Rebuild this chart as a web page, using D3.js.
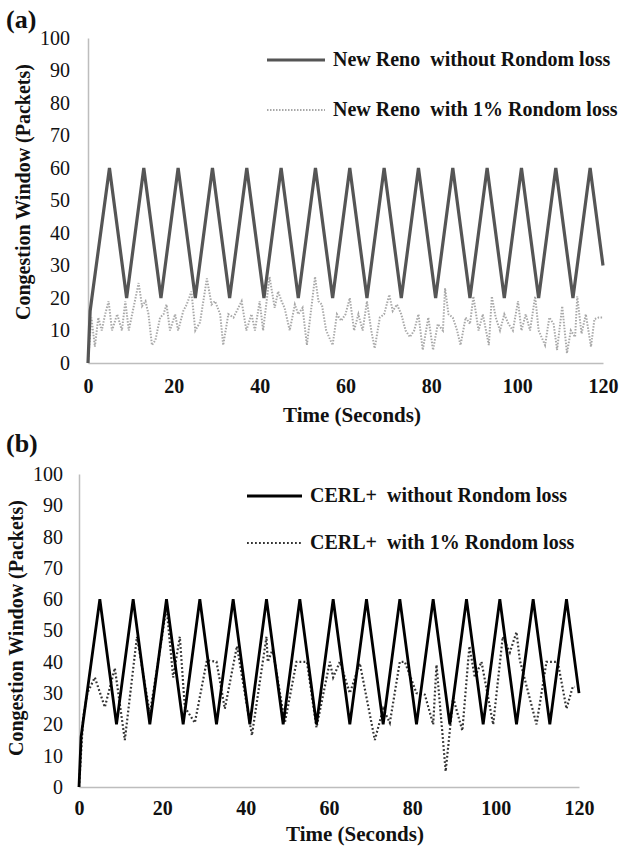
<!DOCTYPE html>
<html>
<head>
<meta charset="utf-8">
<script src="https://cdn.jsdelivr.net/npm/d3@7/dist/d3.min.js"></script>
<style>
  body { margin: 0; background: #fff; }
  svg text { font-family: "Liberation Serif", "DejaVu Serif", "Times New Roman", serif !important; fill: #111; }
  .lg { white-space: pre; }
</style>
</head>
<body>
<script>
// sawtooth (no random loss) - same shape in both panels
const sawTimes  = [0, 0.5, 1, 5, 9, 13, 17, 21, 25, 29, 33, 37, 41, 45, 49, 53, 57, 61, 65, 69, 73, 77, 81, 85, 89, 93, 97, 101, 105, 109, 113, 117, 120];
const sawValues = [0, 16, 21, 60, 20, 60, 20, 60, 20, 60, 20, 60, 20, 60, 20, 60, 20, 60, 20, 60, 20, 60, 20, 60, 20, 60, 20, 60, 20, 60, 20, 60, 30];

// New Reno with 1% random loss (panel a)
const renoLossTimes = [0, 0.8, 1.6, 2.4, 3.2, 4, 4.8, 5.6, 6.8, 7.9, 8.7, 9.5, 10.6, 11.8, 12.6, 13.4, 14.1, 14.9, 15.7, 16.8,
  17.6, 18.3, 19.1, 20.3, 21, 22.2, 23, 24.1, 25, 26.1, 27.7, 28.8, 29.6, 30.8, 31.5, 32.7, 33.9, 35.8, 36.9, 38.1,
  38.9, 40, 40.8, 42.3, 43.5, 44.3, 45.1, 45.8, 47, 48.2, 49, 50, 51, 52.9, 53.7, 54.5, 55.5, 57, 58, 59,
  60, 61, 62, 63, 64, 65, 66, 66.8, 68, 69, 70.2, 71, 72, 73, 74, 75, 76, 77, 78, 79.3,
  80.4, 81.5, 82.7, 83.2, 84, 85, 86, 86.8, 88, 89, 89.8, 91, 92, 93.4, 94.1, 95, 96, 97, 98, 99,
  100.2, 101, 102, 103, 104.2, 105, 106.5, 107.5, 108.5, 109.3, 110.5, 111.6, 112.5, 113.5, 114, 115, 116, 117.2, 118, 119, 120];
const renoLossValues = [0, 14, 5, 14, 10, 15, 19, 10, 15, 10, 19, 10, 17, 24.6, 17.5, 19, 15, 5.5, 7, 14,
  15, 18, 10, 15, 10, 16, 18, 22, 10, 12.5, 26, 18, 19, 15, 5.5, 15, 14, 19, 10, 15,
  10, 19, 10, 26.5, 17, 22, 19, 17, 10, 18, 15, 17, 5.5, 26.5, 19, 18, 10, 5.5, 15, 13,
  15, 20, 10, 15, 10, 19, 10, 4.5, 14, 15, 21, 16, 18, 15, 10, 8, 10, 15, 4, 14,
  4, 12, 10, 23, 15, 14, 10, 5.5, 14, 12, 20.5, 10, 15, 5.5, 20.5, 14, 10, 15, 12, 10,
  19, 10, 15, 10, 20.5, 10, 5.5, 14, 12, 4, 17.5, 3, 10, 8, 20.5, 9, 15, 5, 13.5, 14, 14];

// CERL+ with 1% random loss (panel b)
const cerlLossTimes = [0, 1, 2, 3.8, 6.2, 8.6, 11, 13.9, 17, 19, 21, 22.6, 24.2, 25.4, 27.8, 30.7, 33, 35, 37.9, 41.5,
  45, 45.3, 46.5, 49.4, 52.2, 54.7, 57, 60.2, 61, 62.6, 65, 67.4, 71, 73, 74.6, 77, 78.2, 81, 83, 85,
  85.8, 88, 89.8, 92, 93.7, 95, 96.6, 99.4, 101.7, 103.4, 105, 105.8, 109.8, 112.2, 114.9, 117, 118.5, 119];
const cerlLossValues = [0, 22, 30, 35, 25.5, 38, 15, 48, 23.5, 40, 57.5, 35, 48, 25.5, 20.5, 40.5, 40, 25, 45, 16.5,
  48, 40, 44, 20.5, 40, 40, 19, 40, 35, 40, 30, 39.5, 15, 25, 20.5, 40, 40, 30, 29.5, 20,
  39, 5, 28.5, 18, 45, 35, 40, 20, 48, 43, 49.5, 40.5, 20, 40, 40, 25, 32, 32];

const xTicks = [0, 20, 40, 60, 80, 100, 120];
const yTicks = [0, 10, 20, 30, 40, 50, 60, 70, 80, 90, 100];

const FONT = "'Liberation Serif', 'DejaVu Serif', 'Times New Roman', serif";

const svg = d3.select("body").append("svg")
  .attr("width", 630)
  .attr("height", 851)
  .attr("font-family", FONT);

function panel(p) {
  const x = d3.scaleLinear().domain([0, 120]).range([p.x0, p.x1]);
  const y = d3.scaleLinear().domain([0, 100]).range([p.y0, p.y1]);
  const g = svg.append("g");

  // axes
  const ya = g.append("g").attr("transform", `translate(${p.x0},0)`)
    .call(d3.axisLeft(y).tickValues(yTicks).tickSize(0).tickPadding(p.yPad));
  ya.attr("font-family", FONT).attr("font-size", 20);
  ya.select(".domain").attr("stroke", "#bdbdbd").attr("stroke-width", 1.5);

  const xa = g.append("g").attr("transform", `translate(0,${p.y0})`)
    .call(d3.axisBottom(x).tickValues(xTicks).tickSize(0).tickPadding(p.xPad));
  xa.attr("font-family", FONT).attr("font-size", 20).attr("font-weight", "bold");
  xa.select(".domain").attr("stroke", "#bdbdbd").attr("stroke-width", 1.5);

  const line = d3.line().x(d => x(d[0])).y(d => y(d[1]));

  g.append("path")
    .datum(p.lossT.map((t, i) => [t, p.lossV[i]]))
    .attr("d", line)
    .attr("fill", "none")
    .attr("stroke", p.dotColor)
    .attr("stroke-width", p.dotW)
    .attr("stroke-dasharray", p.dash);

  g.append("path")
    .datum(sawTimes.map((t, i) => [t, sawValues[i]]))
    .attr("d", line)
    .attr("fill", "none")
    .attr("stroke", p.solidColor)
    .attr("stroke-width", p.solidW);

  // titles
  g.append("text").text(p.tag)
    .attr("x", 6).attr("y", p.tagY)
    .attr("font-size", 26).attr("font-weight", "bold");

  g.append("text").text("Congestion Window (Packets)")
    .attr("transform", `translate(${p.ytX},${p.ytY}) rotate(-90)`)
    .attr("text-anchor", "middle")
    .attr("font-size", 20).attr("font-weight", "bold");

  g.append("text").text("Time (Seconds)")
    .attr("x", p.xtX).attr("y", p.xtY)
    .attr("text-anchor", "middle")
    .attr("font-size", 21).attr("font-weight", "bold");

  // legend
  g.append("line")
    .attr("x1", p.lgX0).attr("x2", p.lgX1).attr("y1", p.lgY[0]).attr("y2", p.lgY[0])
    .attr("stroke", p.solidColor).attr("stroke-width", p.solidW);
  g.append("line")
    .attr("x1", p.lgX0).attr("x2", p.lgX1).attr("y1", p.lgY[1]).attr("y2", p.lgY[1])
    .attr("stroke", p.dotColor).attr("stroke-width", p.dotW).attr("stroke-dasharray", p.dash);
  p.labels.forEach((s, i) => {
    g.append("text").attr("class", "lg").text(s)
      .attr("x", p.lgX1 + 8).attr("y", p.lgY[i] + 6)
      .attr("font-size", 20).attr("font-weight", "bold");
  });
}

panel({
  x0: 88, x1: 603, y0: 363, y1: 38, yPad: 18, xPad: 16,
  lossT: renoLossTimes, lossV: renoLossValues,
  solidColor: "#555", solidW: 3.2, dotColor: "#a8a8a8", dotW: 2, dash: "1.5,1.5",
  tag: "(a)", tagY: 28, ytX: 30, ytY: 192, xtX: 352, xtY: 422,
  lgX0: 267, lgX1: 325, lgY: [60, 110],
  labels: ["New Reno  without Rondom loss", "New Reno  with 1% Rondom loss"]
});

panel({
  x0: 79, x1: 579, y0: 787, y1: 474, yPad: 16, xPad: 14,
  lossT: cerlLossTimes, lossV: cerlLossValues,
  solidColor: "#000", solidW: 2.8, dotColor: "#333", dotW: 2.2, dash: "1.8,2.2",
  tag: "(b)", tagY: 452, ytX: 23, ytY: 628, xtX: 355, xtY: 841,
  lgX0: 247, lgX1: 302, lgY: [496, 543],
  labels: ["CERL+  without Rondom loss", "CERL+  with 1% Rondom loss"]
});
</script>
</body>
</html>
